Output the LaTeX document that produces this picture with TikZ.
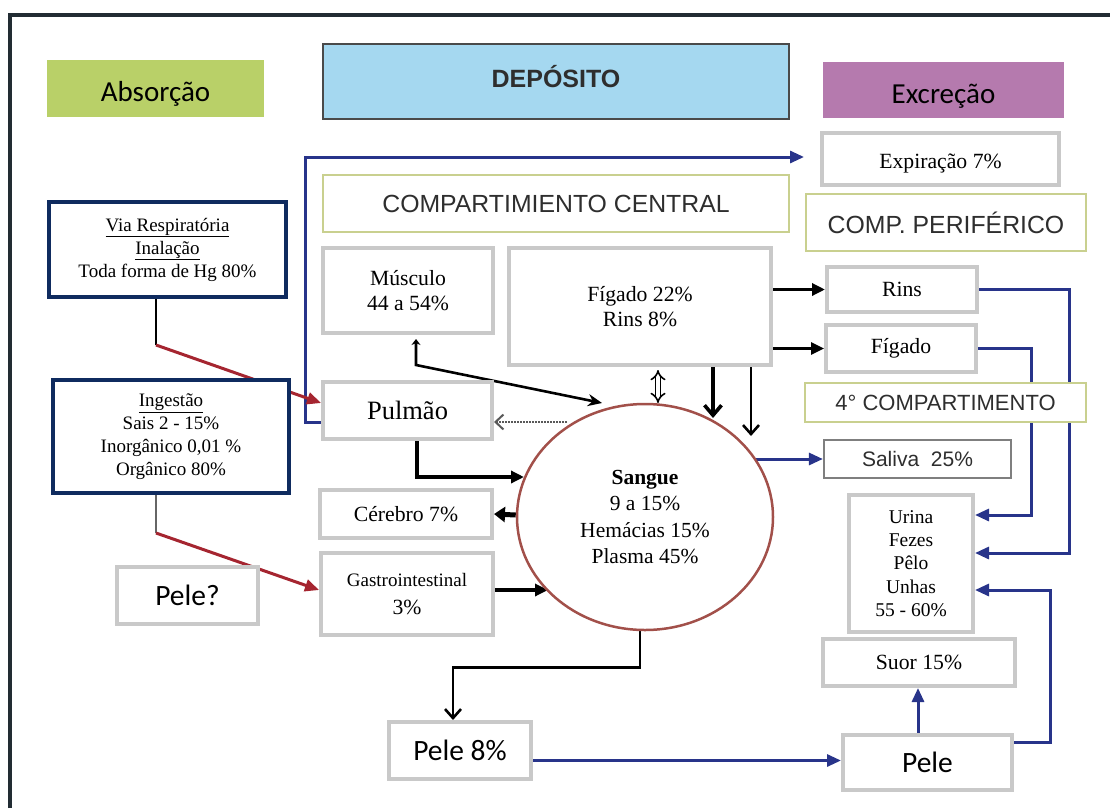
\documentclass[tikz,border=0pt]{standalone}
\usepackage{fontspec}
\setmainfont{Liberation Serif}
\newfontfamily\arialf{Liberation Sans}
\newfontfamily\calibf{Carlito}
\usetikzlibrary{arrows.meta,calc,shapes.geometric,backgrounds}
\definecolor{absgreen}{HTML}{B9D068}
\definecolor{depblue}{HTML}{A5D8F0}
\definecolor{excpurple}{HTML}{B57AAE}
\definecolor{navyb}{HTML}{0F2B5F}
\definecolor{arrblue}{HTML}{28348A}
\definecolor{arrred}{HTML}{A52530}
\definecolor{bloodc}{HTML}{A2504A}
\definecolor{oliveb}{HTML}{C9D08F}
\definecolor{boxgray}{HTML}{C9C9C9}
\definecolor{salgray}{HTML}{7F7F7F}
\definecolor{sansgray}{HTML}{2E2E2E}
\definecolor{framec}{HTML}{222C33}
\definecolor{depborder}{HTML}{4A4A4A}
\newcommand{\fs}[2]{\fontsize{#1}{#2}\selectfont}
\begin{document}
\begin{tikzpicture}[x=1pt,y=-1pt,
  gbox/.style={draw=boxgray,line width=4pt,fill=white,inner sep=0pt,align=center,font=\fs{21.7}{25}},
  nbox/.style={draw=navyb,line width=3.8pt,fill=white,inner sep=0pt,align=center,font=\fs{19}{23}},
  obox/.style={draw=oliveb,line width=2.8pt,fill=white,inner sep=0pt,text=sansgray,font=\arialf\fs{24.8}{28}},
  hdr/.style={inner sep=0pt,align=center},
  blkarr/.style={draw=black,line width=3.2pt,-{Triangle[length=13pt,width=12pt]}},
  barbarr/.style={draw=black,line width=2.6pt,-{Straight Barb[length=9pt,width=16pt]}},
  bluarr/.style={draw=arrblue,line width=3pt,-{Triangle[length=14pt,width=12pt]}},
  redarr/.style={draw=arrred,line width=3pt,-{Triangle[length=14pt,width=12pt]}},
]
\useasboundingbox (0,0) rectangle (1110,808);

% headers
\node[hdr,fill=absgreen,minimum width=217pt,minimum height=57pt,font=\calibf\fs{29}{32},text height=31pt,text depth=6pt] (absor) at (155.5,88.5) {Absorção};
\node[hdr,fill=depblue,draw=depborder,line width=1.8pt,minimum width=466pt,minimum height=75pt,font=\arialf\bfseries\fs{25}{28},text=sansgray,text height=17pt,text depth=6pt] (depos) at (556,81.5) {DEPÓSITO};
\node[hdr,fill=excpurple,minimum width=241pt,minimum height=56pt,font=\calibf\fs{29}{32},text height=33pt,text depth=6pt] (excr) at (943.5,90) {Excreção};

% compartments
\node[obox,minimum width=466pt,minimum height=57pt] (central) at (556,203.5) {COMPARTIMIENTO CENTRAL};
\node[obox,minimum width=280pt,minimum height=57pt] (perif) at (946,222.5) {COMP. PERIFÉRICO};

% left boxes
\node[nbox,minimum width=237pt,minimum height=95pt] (via) at (167.5,249.5) {\underline{Via Respiratória}\\\underline{Inalação}\\Toda forma de Hg 80\%};
\node[nbox,minimum width=236pt,minimum height=113pt] (ingest) at (171,436.5) {\underline{Ingestão}\\Sais 2 - 15\%\\Inorgânico 0,01 \%\\Orgânico 80\%};
\node[gbox,minimum width=141pt,minimum height=57pt,font=\calibf\fs{29.5}{32}] (pelq) at (187.5,595.5) {Pele?};

% deposit boxes
\node[gbox,minimum width=170pt,minimum height=85pt] (musc) at (408,290.5) {Músculo\\44 a 54\%};
\node[gbox,minimum width=262pt,minimum height=117pt] (fig22) at (640,306.5) {Fígado 22\%\\Rins 8\%};
\node[gbox,minimum width=169pt,minimum height=57pt,font=\fs{26.5}{30}] (pulmao) at (407.5,410.5) {Pulmão};
\node[gbox,minimum width=172pt,minimum height=48pt] (cerebro) at (406,514) {Cérebro 7\%};
\node[gbox,minimum width=172pt,minimum height=82pt] (gastro) at (407,594) {{\fs{19}{22}Gastrointestinal}\\[3pt]3\%};
\node[gbox,minimum width=142pt,minimum height=57pt,font=\calibf\fs{29.5}{32}] (pele8) at (460,750.5) {Pele 8\%};
\node[ellipse,draw=bloodc,line width=2.5pt,fill=white,minimum width=256pt,minimum height=226pt,inner sep=0pt,align=center,font=\fs{21.5}{26.3}] (sangue) at (645,517) {\textbf{Sangue}\\9 a 15\%\\Hemácias 15\%\\Plasma 45\%};

% excretion boxes
\node[gbox,minimum width=237pt,minimum height=52pt,text height=23pt,text depth=5pt] (expir) at (940.5,159) {Expiração 7\%};
\node[gbox,minimum width=150pt,minimum height=45pt] (rins) at (902,289.5) {Rins};
\node[gbox,minimum width=150pt,minimum height=47pt] (figado) at (901,348.5) {Fígado};
\node[obox,minimum width=281pt,minimum height=39pt,font=\arialf\fs{22}{26}] (quarto) at (945.5,402.5) {4° COMPARTIMENTO};
\node[draw=salgray,line width=2.2pt,fill=white,inner sep=0pt,minimum width=187pt,minimum height=38pt,text=sansgray,font=\arialf\fs{21}{24}] (saliva) at (917.5,459) {Saliva~~25\%};
\node[gbox,minimum width=124pt,minimum height=137pt,font=\fs{19.5}{23.3}] (urina) at (911,563.5) {Urina\\Fezes\\Pêlo\\Unhas\\55 - 60\%};
\node[gbox,minimum width=192pt,minimum height=47pt] (suor) at (919,662.5) {Suor 15\%};
\node[gbox,minimum width=169pt,minimum height=55pt,font=\calibf\fs{29.5}{32}] (pele) at (927.5,762.5) {Pele};

\begin{scope}[on background layer]
  % frame
  \draw[line width=4pt,draw=framec] (10,808) -- (10,15) -- (1110,15);
  % Pulmao -> Expiracao
  \coordinate (bendA) at (305,157);
  \draw[bluarr] ($(pulmao.west)+(0,11.5)$) -| (bendA) -- ($(expir.west)+(-16,-2)$);
  % absorption routes
  \draw[line width=2.4pt,draw=black] ($(via.south)+(-11.5,0)$) -- (156,345) coordinate (bendV);
  \draw[redarr] (bendV) -- ($(pulmao.west)+(0,-7.5)$);
  \draw[line width=2pt,draw=black!60] ($(ingest.south)+(-15,0)$) -- (156,533) coordinate (bendI);
  \draw[redarr] (bendI) -- ($(gastro.west)+(0,-4)$);
  % musculo <-> sangue
  \draw[draw=black,line width=2.6pt,{Stealth[length=6pt,width=9pt]}-{Stealth[length=14pt,width=12pt]}] ($(musc.south)+(8,4)$) -- ++(0,26) -- ($(sangue.center)+(-43,-114)$);
  % figado22 <-> sangue
  \draw[double=white,double distance=3.5pt,line width=1.6pt,{Implies}-{Implies}] ($(fig22.south)+(18,3)$) -- ($(sangue.center)+(13,-114)$);
  \draw[draw=black,line width=3.6pt,-{Straight Barb[length=10pt,width=17pt]}] ($(fig22.south)+(73,0)$) -- ($(sangue.center)+(68,-99)$);
  \draw[barbarr] ($(fig22.south)+(111,0)$) -- ($(sangue.center)+(106,-81)$);
  % figado22 -> rins, figado
  \draw[blkarr] (fig22.east |- rins.west) -- (rins.west);
  \draw[blkarr,line width=2.6pt] (fig22.east |- figado.west) -- (figado.west);
  % pulmao -> sangue
  \draw[blkarr,line width=3.6pt] ($(pulmao.south)+(9.5,0)$) |- ($(sangue.center)+(-121,-40)$);
  % sangue -> pulmao dotted
  \draw[draw=black!65,line width=2pt,densely dotted,-{Straight Barb[length=8pt,width=15pt]}] ($(sangue.center)+(-78,-95)$) -- ($(pulmao.east)+(0,11.5)$);
  % sangue -> cerebro
  \draw[draw=black,line width=5pt,-{Triangle[length=11pt,width=15pt]}] ($(sangue.west)+(0,-2)$) -- (cerebro.east);
  % gastro -> sangue
  \draw[blkarr] ($(gastro.east)+(0,-4)$) -- ($(sangue.center)+(-97,73)$);
  % sangue -> pele 8%
  \draw[barbarr] ($(sangue.south)+(-5,0)$) -- ++(0,36) -| ($(pele8.north)+(-7,0)$);
  % sangue -> saliva
  \draw[bluarr] ($(sangue.center)+(111,-58)$) -- (saliva.west);
  % excretion routes
  \draw[bluarr] (rins.east) -| ($(urina.east)+(94,-10.5)$) -- ($(urina.east)+(0,-10.5)$);
  \draw[bluarr] (figado.east) -| ($(urina.east)+(56,-48.5)$) -- ($(urina.east)+(0,-48.5)$);
  \draw[bluarr] ($(pele.east)+(0,-20.5)$) -| ($(urina.east)+(75,26.5)$) -- ($(urina.east)+(0,26.5)$);
  \draw[bluarr] ($(pele.north)+(-9.5,0)$) -- ($(suor.south)+(-1,0)$);
  \draw[bluarr] ($(pele8.east)+(0,10)$) -- ($(pele.west)+(0,-2)$);
\end{scope}
\end{tikzpicture}
\end{document}
